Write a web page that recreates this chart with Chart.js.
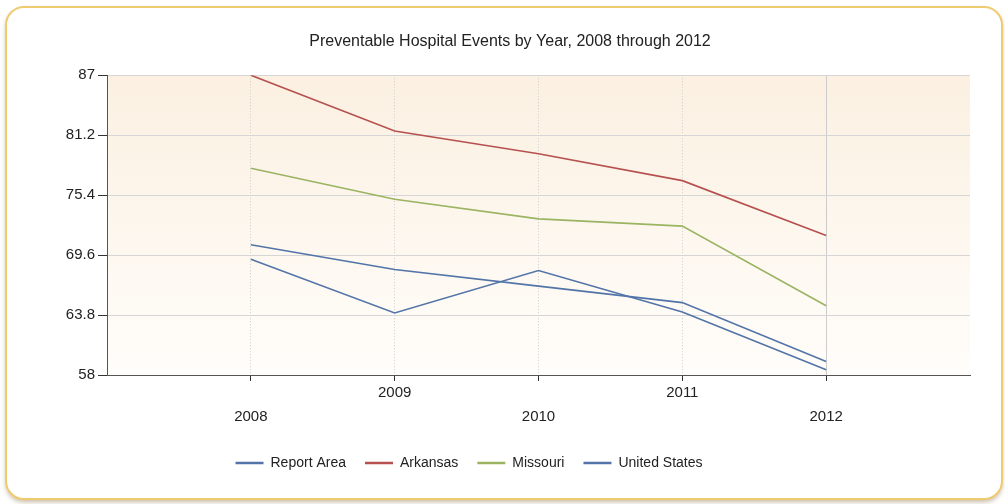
<!DOCTYPE html>
<html>
<head>
<meta charset="utf-8">
<script src="https://cdn.jsdelivr.net/npm/chart.js@4"></script>
<style>
  html, body { margin: 0; padding: 0; background: #fff; }
  #wrap { width: 1005px; height: 504px; position: relative; }
</style>
</head>
<body>
<div id="wrap"><canvas id="chart" width="1005" height="504"></canvas></div>
<script>
const years = [2008, 2009, 2010, 2011, 2012];
const reportArea = [70.6, 68.2, 66.6, 65.0, 59.3];
const arkansas = [87.0, 81.6, 79.4, 76.8, 71.5];
const missouri = [78.0, 75.0, 73.1, 72.4, 64.7];
const unitedStates = [69.2, 64.0, 68.1, 64.1, 58.5];
const yTicks = [58, 63.8, 69.6, 75.4, 81.2, 87];

const fontFamily = "'Liberation Sans', Arial, sans-serif";

function points(values) {
    return years.map((yr, i) => ({ x: yr, y: values[i] }));
}

// rounded frame behind the whole chart + tinted plot area
const framePlugin = {
    id: 'frame',
    afterLayout(chart) {
        // legend sits a bit left of the title in the original
        chart.legend.left -= 41;
        chart.legend.right -= 41;
    },
    beforeDraw(chart) {
        const ctx = chart.ctx;
        ctx.save();
        ctx.fillStyle = '#fff';
        ctx.fillRect(0, 0, chart.width, chart.height);

        const x = 6, y = 7, w = 996, h = 492, r = 18;
        ctx.beginPath();
        ctx.roundRect(x, y, w, h, r);
        ctx.shadowColor = 'rgba(130, 100, 50, 0.45)';
        ctx.shadowBlur = 5;
        ctx.shadowOffsetY = 3;
        ctx.fillStyle = '#fff';
        ctx.fill();
        ctx.shadowColor = 'transparent';
        ctx.lineWidth = 2;
        ctx.strokeStyle = '#efcb70';
        ctx.stroke();

        const a = chart.chartArea;
        const grad = ctx.createLinearGradient(0, a.top, 0, a.bottom);
        grad.addColorStop(0, '#fbf0e1');
        grad.addColorStop(1, '#fffdfa');
        ctx.fillStyle = grad;
        ctx.fillRect(a.left, a.top, a.right - a.left, a.bottom - a.top);
        ctx.restore();
    }
};

new Chart(document.getElementById('chart'), {
    type: 'line',
    data: {
        datasets: [{
            label: 'Report Area',
            data: points(reportArea),
            borderColor: '#5274a8',
            backgroundColor: '#5274a8'
        }, {
            label: 'Arkansas',
            data: points(arkansas),
            borderColor: '#b6514f',
            backgroundColor: '#b6514f'
        }, {
            label: 'Missouri',
            data: points(missouri),
            borderColor: '#9ab462',
            backgroundColor: '#9ab462'
        }, {
            label: 'United States',
            data: points(unitedStates),
            borderColor: '#5274a8',
            backgroundColor: '#5274a8'
        }]
    },
    options: {
        responsive: false,
        animation: false,
        layout: { padding: { left: 50, right: 35, top: 27, bottom: 24 } },
        elements: {
            line: { borderWidth: 1.6, tension: 0 },
            point: { radius: 0, hoverRadius: 0 }
        },
        scales: {
            x: {
                type: 'linear',
                min: 2007,
                max: 2013,
                afterBuildTicks(scale) {
                    scale.ticks = years.map(v => ({ value: v }));
                },
                afterFit(scale) { scale.height = 62; },
                grid: {
                    color: '#cccccc',
                    tickColor: '#333',
                    tickLength: 6
                },
                border: {
                    color: '#555',
                    width: 1,
                    dash: c => (c.tick && c.tick.value !== 2012 ? [1, 2] : [])
                },
                ticks: {
                    color: '#222',
                    padding: 0,
                    font: { family: fontFamily, size: 15, lineHeight: 1.6 },
                    callback: v => (v % 2 === 1 ? [String(v), ''] : ['', String(v)])
                }
            },
            y: {
                min: 58,
                max: 87,
                afterBuildTicks(scale) {
                    scale.ticks = yTicks.map(v => ({ value: v }));
                },
                afterFit(scale) { scale.width = 57; },
                grid: {
                    color: '#d6d6d6',
                    tickColor: '#333',
                    tickLength: 9
                },
                border: { color: '#555', width: 1 },
                ticks: {
                    color: '#222',
                    padding: 3,
                    font: { family: fontFamily, size: 15 },
                    callback: v => String(v)
                }
            }
        },
        plugins: {
            title: {
                display: true,
                text: 'Preventable Hospital Events by Year, 2008 through 2012',
                color: '#222',
                font: { family: fontFamily, size: 16, weight: 'normal', lineHeight: 1.2 },
                padding: { top: 5, bottom: 24 }
            },
            legend: {
                position: 'bottom',
                labels: {
                    color: '#222',
                    font: { family: fontFamily, size: 14 },
                    usePointStyle: true,
                    pointStyle: 'line',
                    pointStyleWidth: 28,
                    boxHeight: 14,
                    padding: 19,
                    generateLabels(chart) {
                        return Chart.defaults.plugins.legend.labels.generateLabels(chart)
                            .map(l => ({ ...l, lineWidth: 2.5 }));
                    }
                }
            },
            tooltip: { enabled: false }
        }
    },
    plugins: [framePlugin]
});
</script>
</body>
</html>
